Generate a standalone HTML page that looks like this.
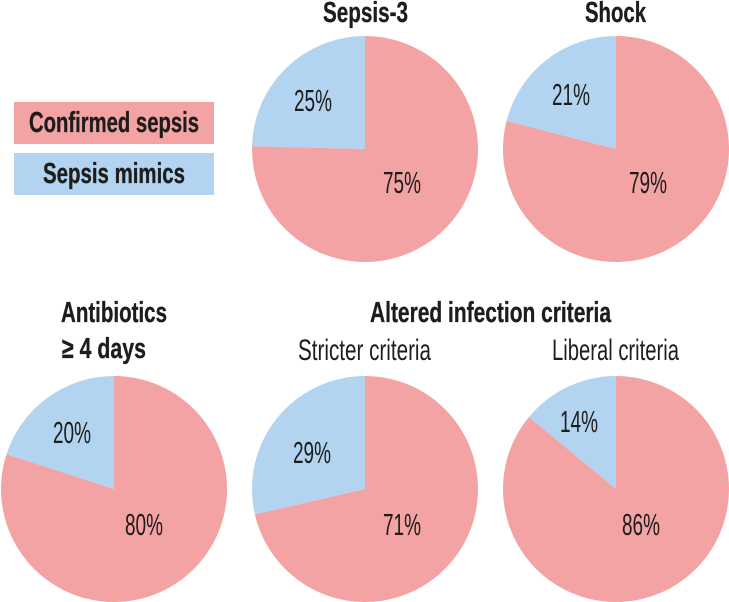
<!DOCTYPE html>
<html lang="en">
<head>
<meta charset="utf-8">
<title>Confirmed sepsis versus sepsis mimics</title>
<style>
  html, body { margin: 0; padding: 0; background: #fff; }
  svg { display: block; }
  text { font-family: "Liberation Sans", sans-serif; fill: #1d1d1b; }
  .bold { font-weight: 700; font-size: 29px; stroke: #1d1d1b; stroke-width: 0.35px; }
  .reg { font-weight: 400; font-size: 29.5px; }
  .pct { font-weight: 400; font-size: 31px; }
</style>
</head>
<body>
<svg id="chart" width="729" height="602" viewBox="0 0 729 602" xmlns="http://www.w3.org/2000/svg">
  <g>
    <rect x="14" y="102" width="200" height="42" fill="#f4a3a4"/>
    <text class="bold" x="29" y="132" textLength="170" lengthAdjust="spacingAndGlyphs">Confirmed sepsis</text>
    <rect x="14" y="153" width="200" height="42" fill="#b2d4f0"/>
    <text class="bold" x="43" y="183" textLength="142" lengthAdjust="spacingAndGlyphs">Sepsis mimics</text>
  </g>
  <g id="pies"></g>
  <text class="bold" x="323" y="22" textLength="85" lengthAdjust="spacingAndGlyphs">Sepsis-3</text>
  <text class="bold" x="585" y="22" textLength="61" lengthAdjust="spacingAndGlyphs">Shock</text>
  <text class="bold" x="61" y="322" textLength="106" lengthAdjust="spacingAndGlyphs">Antibiotics</text>
  <text class="bold" x="62" y="358" textLength="84" lengthAdjust="spacingAndGlyphs">≥ 4 days</text>
  <text class="bold" x="370" y="322" textLength="241" lengthAdjust="spacingAndGlyphs">Altered infection criteria</text>
  <text class="reg" x="298" y="360" textLength="133" lengthAdjust="spacingAndGlyphs">Stricter criteria</text>
  <text class="reg" x="552" y="360" textLength="127" lengthAdjust="spacingAndGlyphs">Liberal criteria</text>
</svg>
<script>
// Chart data: slice shares; printed labels are these rounded
const pieNames = ['sepsis-3', 'shock', 'antibiotics', 'stricter-criteria', 'liberal-criteria'];
const confirmedSepsis = [75.4, 79, 80, 71.4, 86];
const sepsisMimics = [24.6, 21, 20, 28.6, 14];

// Layout (separate from data)
const layout = {
  'sepsis-3':          { cx: 365, cy: 149, confirmedAt: [18, 44],  mimicsAt: [-71, -38] },
  'shock':             { cx: 616, cy: 149, confirmedAt: [13, 44],  mimicsAt: [-64, -44] },
  'antibiotics':       { cx: 114, cy: 489, confirmedAt: [11, 46],  mimicsAt: [-61, -46] },
  'stricter-criteria': { cx: 365, cy: 489, confirmedAt: [18, 46],  mimicsAt: [-72, -26] },
  'liberal-criteria':  { cx: 616, cy: 489, confirmedAt: [6, 46],   mimicsAt: [-56, -57] }
};
const radius = 113;
const NS = 'http://www.w3.org/2000/svg';
const pies = document.getElementById('pies');

function angleOf(value, total) {
  return value / total * 2 * Math.PI;
}
function pointAt(cx, cy, angle) {
  return [cx + radius * Math.sin(angle), cy - radius * Math.cos(angle)];
}
function slicePath(cx, cy, start, end) {
  const a = pointAt(cx, cy, start);
  const b = pointAt(cx, cy, end);
  const large = end - start > Math.PI ? 1 : 0;
  return 'M' + cx + ' ' + cy + 'L' + a[0] + ' ' + a[1] + 'A' + radius + ' ' + radius + ' 0 ' + large + ' 1 ' + b[0] + ' ' + b[1] + 'Z';
}

pieNames.forEach(function (name, i) {
  const box = layout[name];
  const total = confirmedSepsis[i] + sepsisMimics[i];
  const split = angleOf(confirmedSepsis[i], total);

  const group = document.createElementNS(NS, 'g');
  
  

  const pink = document.createElementNS(NS, 'path');
  
  
  pink.setAttribute('d', slicePath(box.cx, box.cy, 0, split));
  pink.setAttribute('fill', '#f4a3a4');
  group.appendChild(pink);

  const blue = document.createElementNS(NS, 'path');
  
  
  blue.setAttribute('d', slicePath(box.cx, box.cy, split, 2 * Math.PI));
  blue.setAttribute('fill', '#b2d4f0');
  group.appendChild(blue);

  const confirmedLabel = document.createElementNS(NS, 'text');
  
  
  confirmedLabel.setAttribute('class', 'pct');
  confirmedLabel.setAttribute('x', box.cx + box.confirmedAt[0]);
  confirmedLabel.setAttribute('y', box.cy + box.confirmedAt[1]);
  confirmedLabel.setAttribute('textLength', '38');
  confirmedLabel.setAttribute('lengthAdjust', 'spacingAndGlyphs');
  confirmedLabel.textContent = Math.round(confirmedSepsis[i]) + '%';
  group.appendChild(confirmedLabel);

  const mimicsLabel = document.createElementNS(NS, 'text');
  
  
  mimicsLabel.setAttribute('class', 'pct');
  mimicsLabel.setAttribute('x', box.cx + box.mimicsAt[0]);
  mimicsLabel.setAttribute('y', box.cy + box.mimicsAt[1]);
  mimicsLabel.setAttribute('textLength', '38');
  mimicsLabel.setAttribute('lengthAdjust', 'spacingAndGlyphs');
  mimicsLabel.textContent = Math.round(sepsisMimics[i]) + '%';
  group.appendChild(mimicsLabel);

  pies.appendChild(group);
});
</script>
</body>
</html>
